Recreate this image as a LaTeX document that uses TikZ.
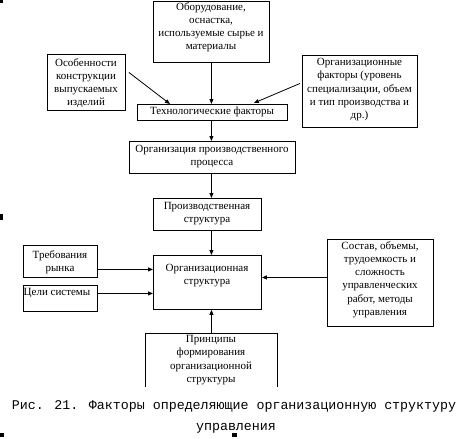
\documentclass[tikz,border=0pt]{standalone}
\usepackage{fontspec}
\setmainfont{Liberation Serif}
\newfontfamily\capfont{Liberation Mono}
\usetikzlibrary{arrows.meta,calc}
\begin{document}
\begin{tikzpicture}[x=1pt,y=1pt,
  box/.style={draw,line width=0.9pt,anchor=north west,inner sep=0pt},
  txt/.style={anchor=north,inner sep=0pt,align=center,font=\fontsize{11}{13.3}\selectfont},
  conn/.style={line width=0.8pt,-{Triangle[length=5pt,width=4pt]}},
  captxt/.style={anchor=base,inner sep=0pt,font=\capfont\fontsize{13.3}{15}\selectfont}]
\useasboundingbox (0,0) rectangle (464,-439);
% boxes
\node[box,minimum width=116,minimum height=61] (equip) at (153,-1) {};
\node[box,minimum width=78,minimum height=56] (oso) at (47,-54) {};
\node[box,minimum width=115,minimum height=72] (orgf) at (302,-55) {};
\node[box,minimum width=150,minimum height=16] (tech) at (137,-104) {};
\node[box,minimum width=166,minimum height=32] (proc) at (129,-141) {};
\node[box,minimum width=108,minimum height=32] (prod) at (153,-198) {};
\node[box,minimum width=108,minimum height=54] (ostr) at (153,-255) {};
\node[box,minimum width=74,minimum height=32] (treb) at (23,-245) {};
\node[box,minimum width=74,minimum height=26] (celi) at (23,-285) {};
\node[box,minimum width=106,minimum height=87] (sost) at (327,-239) {};
\node[anchor=north west,inner sep=0pt,minimum width=132,minimum height=54] (princ) at (145,-333) {};
\draw[line width=0.9pt] (princ.south west) -- (princ.north west) -- (princ.north east) -- (princ.south east);
% texts
\node[txt] (equip-t) at (211,-2) {Оборудование,\\оснастка,\\используемые сырье и\\материалы};
\node[txt] (oso-t) at (86,-58) {Особенности\\конструкции\\выпускаемых\\изделий};
\node[txt] (orgf-t) at (359.5,-58) {Организационные\\факторы (уровень\\специализации, объем\\и тип производства и\\др.)};
\node[txt] (tech-t) at (212,-107) {Технологические факторы};
\node[txt] (proc-t) at (212,-145) {Организация производственного\\процесса};
\node[txt] (prod-t) at (207,-202) {Производственная\\структура};
\node[txt] (ostr-t) at (207,-264) {Организационная\\структура};
\node[txt] (treb-t) at (60,-250) {Требования\\рынка};
\node[txt,anchor=north west] (celi-t) at (23.5,-288) {Цели системы};
\node[txt] (sost-t) at (380,-241) {Состав, объемы,\\трудоемкость и\\сложность\\управленческих\\работ, методы\\управления};
\node[txt] (princ-t) at (211,-335) {Принципы\\формирования\\организационной\\структуры};
% connectors
\draw[conn] (equip.south) -- (equip.south |- tech.north);
\draw[conn] ($(oso.east)+(3,10)$) -- ($(tech.north west)+(33,0)$);
\draw[conn] ($(orgf.west)+(-2,8)$) -- ($(tech.north east)+(-34,1)$);
\draw[conn] (tech.south -| equip.south) -- (proc.north -| equip.south);
\draw[conn] (proc.south -| equip.south) -- (prod.north -| equip.south);
\draw[conn] (prod.south -| equip.south) -- (ostr.north -| equip.south);
\draw[conn] ([yshift=-8]treb.east) -- ([yshift=-8]treb.east -| ostr.west);
\draw[conn] ([yshift=5]celi.east) -- ([yshift=5]celi.east -| ostr.west);
\draw[conn] ([yshift=5.5]sost.west) -- ([yshift=5.5]sost.west -| ostr.east);
\draw[conn] (princ.north -| equip.south) -- (ostr.south -| equip.south);
% caption
\node[captxt] (cap1) at (234,-409.5) {Рис. 21. Факторы определяющие организационную структуру};
\node[captxt] (cap2) at (236,-430.5) {управления};
% marks
\fill (0,0) rectangle (3,-3);
\fill (0,-214) rectangle (3,-220);
\fill (0,-433) rectangle (4,-437);
\fill (232,-433) rectangle (237,-437);
\end{tikzpicture}
\end{document}
